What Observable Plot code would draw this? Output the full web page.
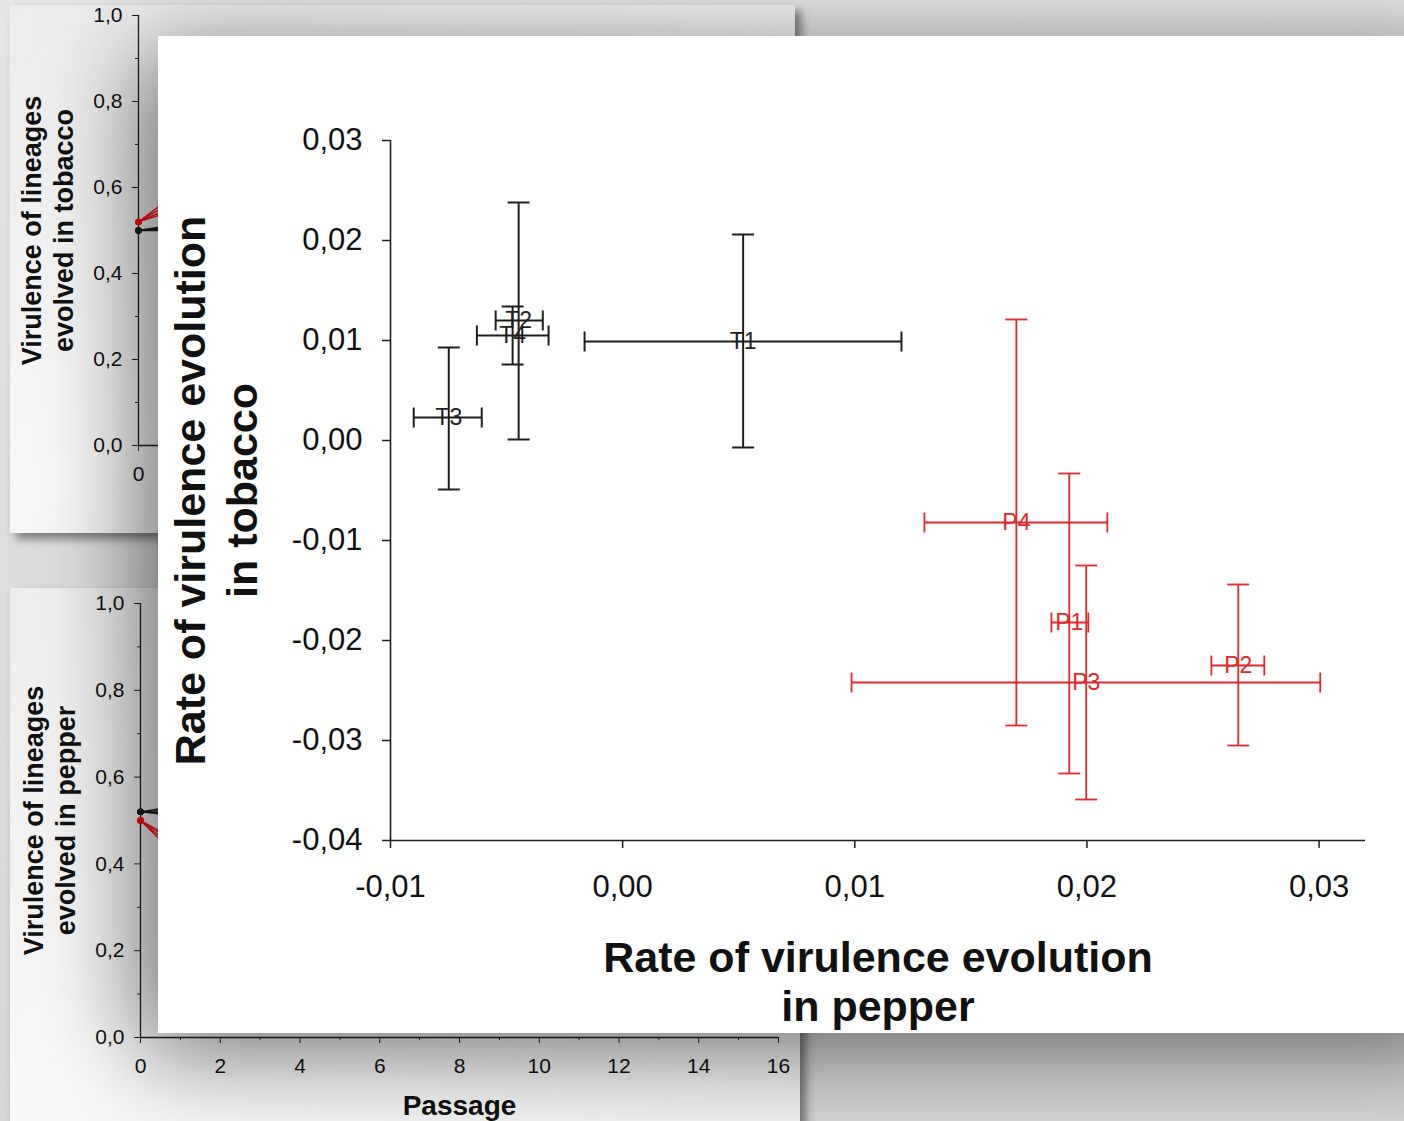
<!DOCTYPE html>
<html>
<head>
<meta charset="utf-8">
<script src="https://cdn.jsdelivr.net/npm/d3@7"></script>
<script src="https://cdn.jsdelivr.net/npm/@observablehq/plot@0.6"></script>
<style>
  html, body { margin: 0; padding: 0; }
  body {
    width: 1404px; height: 1121px; overflow: hidden; position: relative;
    background: linear-gradient(180deg, #e6e6e6 0%, #d6d6d6 100%);
    font-family: "Liberation Sans", Arial, sans-serif;
  }
  .panel { position: absolute; box-shadow: 6px 6px 9px rgba(0,0,0,0.45); }
  #top { left: 10px; top: 5px; width: 785px; height: 528px; background: linear-gradient(160deg, #ececec 0%, #f8f8f8 60%, #f2f2f2 100%); }
  #bot { left: 10px; top: 588px; width: 790px; height: 560px; background: linear-gradient(160deg, #eeeeee 0%, #f8f8f8 60%, #f2f2f2 100%); }
  #main { position: absolute; left: 158px; top: 36px; width: 1320px; height: 997px; background: #fff;
          box-shadow: -18px 18px 90px 0 rgba(0,0,0,0.55); }
  svg { display: block; }
</style>
</head>
<body>
<div id="top" class="panel"></div>
<div id="bot" class="panel"></div>
<div id="main"></div>
<script>
// ---------- Main chart data ----------
const lineages    = ["T1", "T2", "T3", "T4", "P1", "P2", "P3", "P4"];
const pepperRate  = [0.00519, -0.00448, -0.00749, -0.00474, 0.01924, 0.02652, 0.01997, 0.01696];
const pepperLow   = [-0.00164, -0.00547, -0.00900, -0.00628, 0.01847, 0.02536, 0.00986, 0.01300];
const pepperHigh  = [0.01201, -0.00344, -0.00607, -0.00319, 0.02006, 0.02764, 0.03005, 0.02088];
const tobaccoRate = [0.0099, 0.0120, 0.0023, 0.0105, -0.0182, -0.0225, -0.0242, -0.0082];
const tobaccoLow  = [-0.0007, 0.0001, -0.0049, 0.0076, -0.0333, -0.0305, -0.0359, -0.0285];
const tobaccoHigh = [0.0206, 0.0238, 0.0093, 0.0134, -0.0033, -0.0144, -0.0125, 0.0121];

const mainXTicks = [-0.01, 0.00, 0.01, 0.02, 0.03];
const mainYTicks = [0.03, 0.02, 0.01, 0.00, -0.01, -0.02, -0.03, -0.04];

// ---------- Background panel data (only the start of the lines is visible) ----------
const panelPassage = [0, 2];
const topRedIds    = ["T1", "T2", "T3", "T4"];
const topRedVals   = [[0.52, 0.63], [0.52, 0.66], [0.52, 0.58], [0.52, 0.60]];
const topBlackIds  = ["P1", "P2", "P3", "P4"];
const topBlackVals = [[0.50, 0.51], [0.50, 0.53], [0.50, 0.50], [0.50, 0.52]];
const botBlackIds  = ["T1", "T2", "T3", "T4"];
const botBlackVals = [[0.52, 0.53], [0.52, 0.55], [0.52, 0.50], [0.52, 0.51]];
const botRedIds    = ["P1", "P2", "P3", "P4"];
const botRedVals   = [[0.50, 0.38], [0.50, 0.32], [0.50, 0.35], [0.50, 0.40]];

const panelYMajor = [0, 0.2, 0.4, 0.6, 0.8, 1.0];
const panelYMinor = [0.1, 0.3, 0.5, 0.7, 0.9];
const passageMajor = [0, 2, 4, 6, 8, 10, 12, 14, 16];
const passageMinor = [1, 3, 5, 7, 9, 11, 13, 15];

const BLACK = "#1e1e1e";
const RED = "#e3262b";
const PRED = "#ff1010";
const FONT = "Liberation Sans, Arial, sans-serif";

const fmt1 = d => d.toFixed(1).replace(".", ",");
const fmt2 = d => Math.abs(d) < 1e-9 ? "0,00" : (d < 0 ? "-" : "") + Math.abs(d).toFixed(2).replace(".", ",");

function panelRows(ids, vals, color) {
  const rows = [];
  ids.forEach((id, i) => vals[i].forEach((v, j) => rows.push({id, passage: panelPassage[j], v, color})));
  return rows;
}

function panel({width, height, marginLeft, marginTop, marginBottom, marginRight, rows, title, xlabel, showXLabels}) {
  const marks = [
    Plot.axisY(panelYMinor, {tickSize: 3, tickFormat: () => "", stroke: BLACK, label: null}),
    Plot.axisY(panelYMajor, {tickSize: 6, tickPadding: 10, tickFormat: fmt1, fontSize: 21, fill: "#111", stroke: BLACK, label: null}),
    Plot.axisX(passageMinor, {tickSize: 3, tickFormat: () => "", stroke: BLACK, label: null}),
    Plot.axisX(showXLabels ? passageMajor : [0], {tickSize: 6, tickPadding: 15, tickFormat: d => String(d), fontSize: 21, fill: "#111", stroke: BLACK, label: null}),
    Plot.ruleX([0], {stroke: BLACK, strokeWidth: 1.3}),
    Plot.ruleY([0], {stroke: BLACK, strokeWidth: 1.3}),
    Plot.line(rows, {x: "passage", y: "v", z: "id", stroke: "color", strokeWidth: 1.4}),
    Plot.dot(rows.filter(r => r.passage === 0), {x: "passage", y: "v", r: 2.5, fill: "color", stroke: "color"}),
    Plot.text([title], {frameAnchor: "left", dx: -92, rotate: -90, textAnchor: "middle", lineAnchor: "middle", fontSize: 27, fontWeight: "bold", lineHeight: 1.2, fill: "#111", fontFamily: FONT})
  ];
  if (xlabel) marks.push(Plot.text([xlabel], {frameAnchor: "bottom", dy: 69, textAnchor: "middle", lineAnchor: "middle", fontSize: 28, fontWeight: "bold", fill: "#111", fontFamily: FONT}));
  return Plot.plot({
    width, height, marginLeft, marginTop, marginBottom, marginRight,
    style: {background: "transparent", fontFamily: FONT, overflow: "visible"},
    x: {domain: [0, 16], label: null},
    y: {domain: [0, 1], label: null},
    color: {type: "identity"},
    marks
  });
}

document.getElementById("top").append(panel({
  width: 785, height: 528, marginLeft: 128, marginTop: 10, marginBottom: 88, marginRight: 17,
  rows: panelRows(topRedIds, topRedVals, PRED).concat(panelRows(topBlackIds, topBlackVals, BLACK)),
  title: "Virulence of lineages\nevolved in tobacco", xlabel: null, showXLabels: false
}));

document.getElementById("bot").append(panel({
  width: 790, height: 533, marginLeft: 130, marginTop: 15, marginBottom: 84, marginRight: 22,
  rows: panelRows(botBlackIds, botBlackVals, BLACK).concat(panelRows(botRedIds, botRedVals, PRED)),
  title: "Virulence of lineages\nevolved in pepper", xlabel: "Passage", showXLabels: true
}));

// ---------- Main chart ----------
const pts = lineages.map((id, i) => ({
  id, x: pepperRate[i], x1: pepperLow[i], x2: pepperHigh[i],
  y: tobaccoRate[i], y1: tobaccoLow[i], y2: tobaccoHigh[i],
  color: id[0] === "T" ? BLACK : RED,
  sw: id[0] === "T" ? 2 : 1.8
}));

const hCap = {draw(ctx, size) { const r = Math.sqrt(size / Math.PI); ctx.moveTo(-r, 0); ctx.lineTo(r, 0); }};
const vCap = {draw(ctx, size) { const r = Math.sqrt(size / Math.PI); ctx.moveTo(0, -r); ctx.lineTo(0, r); }};

const main = Plot.plot({
  width: 1246, height: 997,
  marginLeft: 232, marginRight: 39, marginTop: 104, marginBottom: 193,
  style: {background: "transparent", fontFamily: FONT, overflow: "visible"},
  x: {domain: [-0.01, 0.032], label: null},
  y: {domain: [-0.04, 0.03], label: null},
  color: {type: "identity"},
  marks: [
    Plot.axisY(mainYTicks, {tickSize: 8, tickPadding: 20, tickFormat: fmt2, fontSize: 31, fill: "#111", stroke: BLACK, strokeWidth: 1.5, label: null}),
    Plot.axisX(mainXTicks, {tickSize: 8, tickPadding: 26, tickFormat: fmt2, fontSize: 31, fill: "#111", stroke: BLACK, strokeWidth: 1.5, label: null}),
    Plot.ruleX([-0.01], {stroke: BLACK, strokeWidth: 1.6}),
    Plot.ruleY([-0.04], {stroke: BLACK, strokeWidth: 1.6}),
    // horizontal error bars (pepper)
    Plot.link(pts, {x1: "x1", x2: "x2", y1: "y", y2: "y", stroke: "color", strokeWidth: "sw"}),
    // vertical error bars (tobacco)
    Plot.link(pts, {x1: "x", x2: "x", y1: "y1", y2: "y2", stroke: "color", strokeWidth: "sw"}),
    // caps
    Plot.dot(pts, {x: "x1", y: "y", symbol: vCap, r: 10, stroke: "color", strokeWidth: "sw", fill: "none"}),
    Plot.dot(pts, {x: "x2", y: "y", symbol: vCap, r: 10, stroke: "color", strokeWidth: "sw", fill: "none"}),
    Plot.dot(pts, {x: "x", y: "y1", symbol: hCap, r: 11, stroke: "color", strokeWidth: "sw", fill: "none"}),
    Plot.dot(pts, {x: "x", y: "y2", symbol: hCap, r: 11, stroke: "color", strokeWidth: "sw", fill: "none"}),
    // labels
    Plot.text(pts, {x: "x", y: "y", text: "id", fill: "color", fontSize: 23, fontFamily: FONT}),
    // axis titles
    Plot.text(["Rate of virulence evolution\nin pepper"], {frameAnchor: "bottom", dy: 140, textAnchor: "middle", lineAnchor: "middle", fontSize: 43, fontWeight: "bold", lineHeight: 1.16, fill: "#111", fontFamily: FONT}),
    Plot.text(["Rate of virulence evolution\nin tobacco"], {frameAnchor: "left", dx: -176, rotate: -90, textAnchor: "middle", lineAnchor: "middle", fontSize: 43, fontWeight: "bold", lineHeight: 1.2, fill: "#111", fontFamily: FONT})
  ]
});
document.getElementById("main").append(main);
</script>
</body>
</html>
